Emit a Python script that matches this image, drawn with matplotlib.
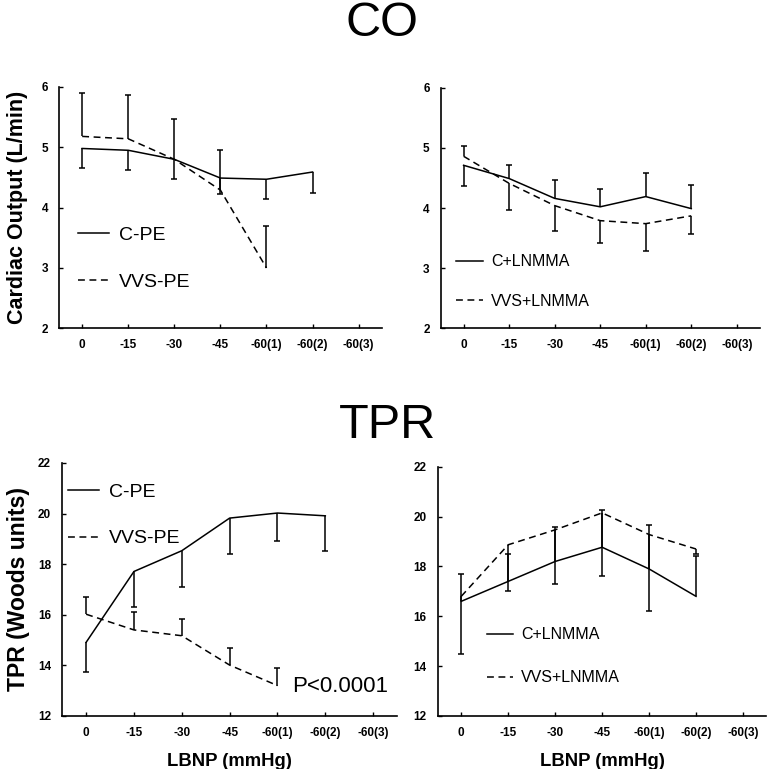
import matplotlib.pyplot as plt
import numpy as np

plt.rcParams['font.family'] = ['Liberation Sans', 'DejaVu Sans']

nan = np.nan
labels = ['0', '-15', '-30', '-45', '-60(1)', '-60(2)', '-60(3)']

# CO, PE panel
co_cpe = [4.98, 4.95, 4.80, 4.49, 4.47, 4.59]
co_cpe_lo = [4.65, 4.62, 4.47, 4.22, 4.14, 4.24]
co_vvspe = [5.18, 5.14, 4.80, 4.29, 3.00]
co_vvspe_hi = [5.90, 5.86, 5.46, 4.96, 3.69]

# CO, LNMMA panel
co_cl = [4.71, 4.49, 4.16, 4.02, 4.19, 3.99]
co_cl_lo = [4.36, nan, nan, nan, nan, nan]
co_cl_hi = [nan, 4.72, 4.47, 4.31, 4.58, 4.38]
co_vl = [4.86, 4.41, 4.04, 3.79, 3.74, 3.87]
co_vl_hi = [5.03, nan, nan, nan, nan, nan]
co_vl_lo = [nan, 3.96, 3.62, 3.42, 3.29, 3.56]

# TPR, PE panel
tpr_cpe = [14.91, 17.71, 18.53, 19.82, 20.02, 19.91]
tpr_cpe_lo = [13.72, 16.32, 17.11, 18.42, 18.92, 18.53]
tpr_vvspe = [16.02, 15.40, 15.17, 14.01, 13.20]
tpr_vvspe_hi = [16.72, 16.10, 15.82, 14.70, 13.90]

# TPR, LNMMA panel
tpr_cl = [16.60, 17.40, 18.20, 18.77, 17.90, 16.80]
tpr_cl_hi = [17.70, 18.50, 19.60, 20.28, 19.68, 18.40]
tpr_vl = [16.80, 18.87, 19.47, 20.15, 19.28, 18.70]
tpr_vl_lo = [14.50, 17.00, 17.30, 17.60, 16.20, 18.50]

LW = 1.1
DASH = (0, (4.5, 3))


def bars(ax, y, ends):
    x = np.arange(len(y))
    y = np.array(y, dtype=float)
    ends = np.array(ends, dtype=float)
    ok = ~np.isnan(ends)
    ax.vlines(x[ok], y[ok], ends[ok], color='k', lw=LW)
    ax.plot(x[ok], ends[ok], ls='none', marker='_', ms=5, mew=LW, color='k')


def series(ax, y, ls, label):
    ax.plot(np.arange(len(y)), y, color='k', lw=LW, ls=ls, label=label)


def style(ax, ylim, yticks):
    ax.set_xlim(-0.5, 6.5)
    ax.set_ylim(*ylim)
    ax.set_yticks(yticks)
    ax.set_xticks(range(len(labels)))
    ax.set_xticklabels(labels)
    for s in ['top', 'right']:
        ax.spines[s].set_visible(False)
    for s in ['left', 'bottom']:
        ax.spines[s].set_linewidth(1.2)
    ax.tick_params(direction='in', length=3, width=1, labelsize=8.5, pad=8)
    for t in ax.get_xticklabels() + ax.get_yticklabels():
        t.set_fontweight('bold')


fig = plt.figure(figsize=(7.68, 7.69), dpi=100)

ax1 = fig.add_axes([0.077, 0.573, 0.420, 0.314])
ax2 = fig.add_axes([0.574, 0.573, 0.415, 0.313])
ax3 = fig.add_axes([0.081, 0.069, 0.436, 0.329])
ax4 = fig.add_axes([0.570, 0.069, 0.428, 0.324])

# CO PE
series(ax1, co_cpe, '-', 'C-PE')
series(ax1, co_vvspe, DASH, 'VVS-PE')
bars(ax1, co_cpe, co_cpe_lo)
bars(ax1, co_vvspe, co_vvspe_hi)
style(ax1, (2, 6), [2, 3, 4, 5, 6])
ax1.set_ylabel('Cardiac Output (L/min)', fontsize=15.5, fontweight='bold', labelpad=10)
ax1.legend(loc='upper left', bbox_to_anchor=(0.005, 0.494), frameon=False, fontsize=14,
           handlelength=1.6, labelspacing=1.5, handletextpad=0.5)

# CO LNMMA
series(ax2, co_cl, '-', 'C+LNMMA')
series(ax2, co_vl, DASH, 'VVS+LNMMA')
bars(ax2, co_cl, co_cl_lo)
bars(ax2, co_cl, co_cl_hi)
bars(ax2, co_vl, co_vl_hi)
bars(ax2, co_vl, co_vl_lo)
style(ax2, (2, 6), [2, 3, 4, 5, 6])
ax2.legend(loc='upper left', bbox_to_anchor=(0.003, 0.368), frameon=False, fontsize=11.5,
           handlelength=1.65, labelspacing=1.55, handletextpad=0.55)

# TPR PE
series(ax3, tpr_cpe, '-', 'C-PE')
series(ax3, tpr_vvspe, DASH, 'VVS-PE')
bars(ax3, tpr_cpe, tpr_cpe_lo)
bars(ax3, tpr_vvspe, tpr_vvspe_hi)
style(ax3, (12, 22), [12, 14, 16, 18, 20, 22])
ax3.set_ylabel('TPR (Woods units)', fontsize=16.5, fontweight='bold', labelpad=6)
ax3.set_xlabel('LBNP (mmHg)', fontsize=13.3, fontweight='bold', labelpad=10)
ax3.legend(loc='upper left', bbox_to_anchor=(-0.035, 0.99), frameon=False, fontsize=14,
           handlelength=1.6, labelspacing=1.5, handletextpad=0.5)
ax3.text(4.3, 13.15, 'P<0.0001', fontsize=16, va='center', ha='left')

# TPR LNMMA
series(ax4, tpr_cl, '-', 'C+LNMMA')
series(ax4, tpr_vl, DASH, 'VVS+LNMMA')
bars(ax4, tpr_cl, tpr_cl_hi)
bars(ax4, tpr_vl, tpr_vl_lo)
style(ax4, (12, 22), [12, 14, 16, 18, 20, 22])
ax4.set_xlabel('LBNP (mmHg)', fontsize=13.3, fontweight='bold', labelpad=10)
ax4.legend(loc='upper left', bbox_to_anchor=(0.106, 0.413), frameon=False, fontsize=11.5,
           handlelength=1.6, labelspacing=1.75, handletextpad=0.55)

fig.text(0.498, 0.999, 'CO', fontsize=35, ha='center', va='top')
fig.text(0.505, 0.476, 'TPR', fontsize=35, ha='center', va='top')

fig.savefig('out.png', dpi=100, facecolor='white')
